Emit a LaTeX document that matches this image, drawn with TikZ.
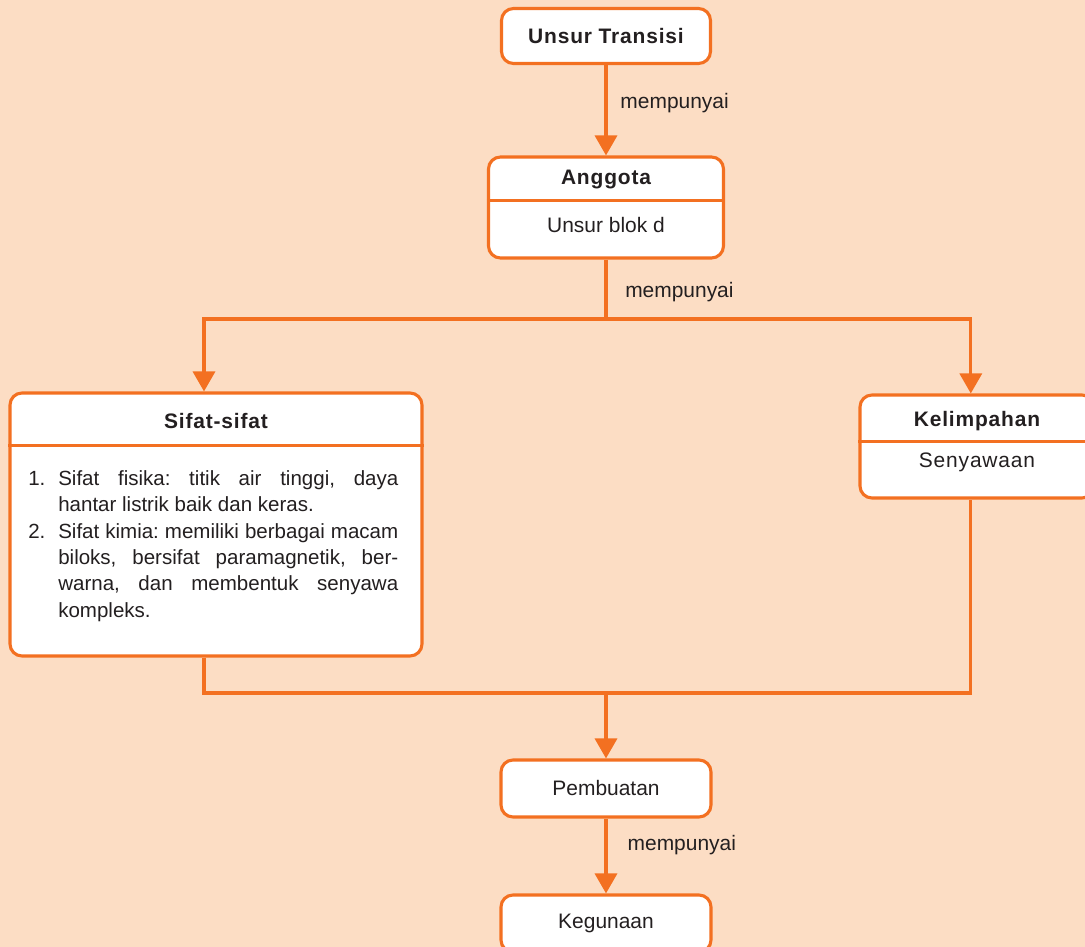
\documentclass[tikz,border=0pt]{standalone}
\usepackage{fontspec}
\setmainfont{Liberation Sans}
\newfontfamily\spaced[LetterSpace=4]{Liberation Sans}
\usepackage{tikz}
\usetikzlibrary{arrows.meta, positioning}
\definecolor{lineor}  {RGB}{243, 112,  33}
\definecolor{peach}   {RGB}{252, 221, 196}
\definecolor{darktext}{RGB}{ 35,  31,  32}

\begin{document}
\begin{tikzpicture}[>={Triangle[width=0.55cm, length=0.5cm]},
  box/.style={draw=lineor, line width=2.2pt, rounded corners=0.3cm, fill=white},
  title/.style={font=\spaced\fontsize{14.9}{18}\selectfont\bfseries, text=darktext},
  txt/.style={font=\fontsize{14.9}{18}\selectfont, text=darktext},
  link/.style={draw=lineor, line width=2.4pt},
  arr/.style={link, ->},
  lbl/.style={anchor=west, inner sep=0pt, xshift=0.32cm, font=\fontsize{14.9}{18}\selectfont, text=darktext}
]
  % Background
  \fill[peach] (0,0) rectangle (27.125,-23.675);
  \useasboundingbox (0,0) rectangle (27.125,-23.675);

  % Boxes
  \node[box, minimum width=5.225cm, minimum height=1.375cm] (trans) at (15.15,-0.9) {};
  \node[box, minimum width=5.875cm, minimum height=2.525cm] (anggota) at (15.15,-5.1875) {};
  \node[box, minimum width=10.3cm, minimum height=6.575cm] (sifat) at (5.4,-13.1125) {};
  \node[box, minimum width=5.85cm, minimum height=2.575cm] (kelim) at (24.425,-11.1625) {};
  \node[box, minimum width=5.25cm, minimum height=1.425cm] (pemb) at (15.15,-19.7125) {};
  \node[box, minimum width=5.25cm, minimum height=1.425cm] (kegun) at (15.15,-23.0875) {};

  % Dividers
  \draw[link] ([yshift=-1.125cm]anggota.north west) -- ([yshift=-1.125cm]anggota.north east);
  \draw[link] ([yshift=-1.35cm]sifat.north west) -- ([yshift=-1.35cm]sifat.north east);
  \draw[link] ([yshift=-1.2cm]kelim.north west) -- ([yshift=-1.2cm]kelim.north east);

  % Texts
  \node[title] (transT) at (trans) {Unsur Transisi};
  \node[title] (anggotaT) at (15.15,-4.5) {Anggota};
  \node[txt] (anggotaB) at (15.15,-5.625) {Unsur blok d};
  \node[title] (sifatT) at (5.4,-10.525) {Sifat-sifat};
  \node[txt, anchor=north west, inner sep=0pt, text width=9.25cm, align=justify,
        font=\fontsize{14.6}{18.8}\selectfont] (sifatB) at (0.7,-11.75) {%
    \hyphenpenalty=10000\frenchspacing
    \noindent\hangindent=0.75cm\hangafter=1\makebox[0.75cm][l]{1.}Sifat fisika: titik air tinggi, daya\linebreak
    hantar listrik baik dan keras.\par
    \noindent\hangindent=0.75cm\hangafter=1\makebox[0.75cm][l]{2.}Sifat kimia: memiliki berbagai macam\linebreak
    biloks, bersifat paramagnetik, ber-\linebreak
    warna, dan membentuk senyawa\linebreak
    kompleks.\par};
  \node[title] (kelimT) at (24.425,-10.525) {Kelimpahan};
  \node[txt, font=\spaced\fontsize{14.9}{18}\selectfont] (kelimB) at (24.425,-11.55) {Senyawaan};
  \node[txt] (pembT) at (pemb) {Pembuatan};
  \node[txt] (kegunT) at (15.15,-23.08) {Kegunaan};

  % Junctions
  \coordinate (split) at (15.15,-7.975);
  \coordinate (merge) at (15.15,-17.325);
  \coordinate (leftx) at (5.1,0);
  \coordinate (rightx) at (24.27,0);

  % Connectors
  \draw[arr] (trans) -- node[lbl, pos=0.42] (lbl1) {mempunyai} (anggota);
  \draw[link] (anggota) -- node[lbl, pos=0.54, xshift=0.12cm] (lbl2) {mempunyai} (split);
  \draw[arr] (split) -| (leftx |- sifat.north);
  \draw[arr] (split) -| (rightx |- kelim.north);
  \draw[link] (leftx |- sifat.south) |- (rightx |- merge) -- (rightx |- kelim.south);
  \draw[arr] (merge) -- (pemb);
  \draw[arr] (pemb) -- node[lbl, pos=0.36, xshift=0.18cm] (lbl3) {mempunyai} (kegun);
\end{tikzpicture}
\end{document}
